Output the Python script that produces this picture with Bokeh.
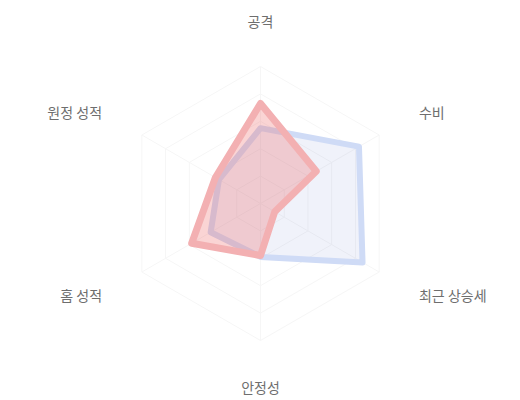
import math
from bokeh.plotting import figure
from bokeh.models import Range1d, ColumnDataSource
from bokeh.core.properties import value
from bokeh.embed import file_html
from bokeh.resources import INLINE

categories = ["공격", "수비", "최근 상승세", "안정성", "홈 성적", "원정 성적"]
series_red = [73, 47, 12, 38, 58, 38]
series_blue = [55, 83, 86, 39, 42, 35]
max_value = 100
rings = [20, 40, 60, 80, 100]

W, H = 520, 400
cx_px, cy_px = 260, 203
scale = 1.37  # px per value unit

p = figure(width=W, height=H, output_backend="svg", toolbar_location=None,
           x_range=Range1d(-cx_px / scale, (W - cx_px) / scale),
           y_range=Range1d(-(H - cy_px) / scale, cy_px / scale),
           min_border=0)
p.axis.visible = False
p.grid.visible = False
p.outline_line_color = None
p.background_fill_color = "white"
p.border_fill_color = "white"

n = len(categories)
angles = [math.pi / 2 - i * 2 * math.pi / n for i in range(n)]

# grid rings and spokes
for r in rings:
    xs = [r * math.cos(a) for a in angles] + [r * math.cos(angles[0])]
    ys = [r * math.sin(a) for a in angles] + [r * math.sin(angles[0])]
    p.line(xs, ys, line_color="#f6f6f6", line_width=1)
for a in angles:
    p.line([0, max_value * math.cos(a)], [0, max_value * math.sin(a)],
           line_color="#f6f6f6", line_width=1)

def poly(vals):
    xs = [v * math.cos(a) for v, a in zip(vals, angles)]
    ys = [v * math.sin(a) for v, a in zip(vals, angles)]
    return xs, ys

bx, by = poly(series_blue)
p.patch(bx, by, fill_color="#5470c6", fill_alpha=0.09,
        line_color="#cfdbf6", line_width=6, line_join="round")
rx, ry = poly(series_red)
p.patch(rx, ry, fill_color="#ee6666", fill_alpha=0.28,
        line_color="#f3b0b2", line_width=7, line_join="round")

# labels
label_r = 183 / scale
lx, ly, aligns = [], [], []
for a in angles:
    c = math.cos(a)
    lx.append(label_r * c)
    ly.append(label_r * math.sin(a))
    if abs(c) < 1e-6:
        aligns.append("center")
    elif c > 0:
        aligns.append("left")
    else:
        aligns.append("right")
src = ColumnDataSource(dict(x=lx, y=ly, t=categories, al=aligns))
p.text(x="x", y="y", text="t", source=src, text_align="al",
       text_baseline="middle", text_font=value("Noto Sans CJK KR"),
       text_font_size="14px", text_color="#6e6e6e")

open("out.html", "w").write(file_html(p, INLINE))
